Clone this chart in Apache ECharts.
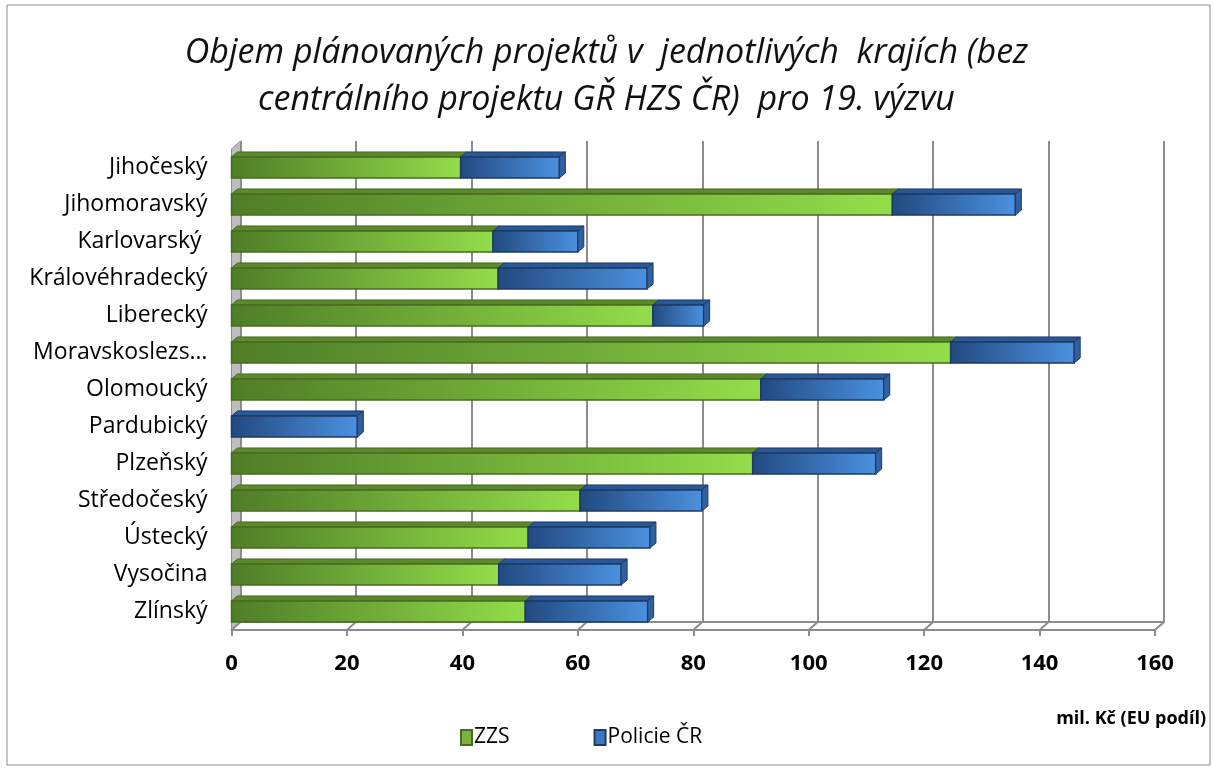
<!DOCTYPE html>
<html><head><meta charset="utf-8">
<script src="https://cdn.jsdelivr.net/npm/echarts@6/dist/echarts.min.js"></script>
<style>html,body{margin:0;padding:0;background:#fff}#c{width:1213px;height:769px}</style>
</head><body><div id="c"></div>
<script>
const titleLines = ['Objem plánovaných projektů v  jednotlivých  krajích (bez', 'centrálního projektu GŘ HZS ČR)  pro 19. výzvu'];
const categories = ['Jihočeský','Jihomoravský','Karlovarský ','Královéhradecký','Liberecký','Moravskoslezs…','Olomoucký','Pardubický','Plzeňský','Středočeský','Ústecký','Vysočina','Zlínský'];
const zzs =     [39.7, 114.5, 45.3, 46.2, 73.0, 124.6, 91.7, 0,    90.3, 60.4, 51.4, 46.3, 50.9];
const policie = [17.1, 21.3,  14.7, 25.8, 8.8,  21.4,  21.3, 21.8, 21.3, 21.1, 21.1, 21.2, 21.2];
const xTicks = [0, 20, 40, 60, 80, 100, 120, 140, 160];
const unitLabel = 'mil. Kč (EU podíl)';
const seriesNames = ['ZZS', 'Policie ČR'];

const FONT = 'Open Sans';
const chart = echarts.init(document.getElementById('c'));
const DX = 9, DY = 8; // back wall offset

function seg(startArr, valArr) {
  return valArr.map((v, i) => [startArr[i], startArr[i] + v, i]);
}
const zzsData = seg(categories.map(() => 0), zzs);
const polData = seg(zzs, policie);

function makeRender(c) {
  return function (params, api) {
    const s = api.value(0), e = api.value(1), cat = api.value(2);
    if (e - s <= 0) return null;
    const a = api.coord([s, cat]), b = api.coord([e, cat]);
    const h = api.size([0, 1])[1] * 0.57;
    const dx = 6, dy = 5;
    const x0 = a[0], x1 = b[0], yT = a[1] - h / 2, yB = a[1] + h / 2;
    return {
      type: 'group', children: [
        { type: 'polygon', shape: { points: [[x0, yT], [x1, yT], [x1 + dx, yT - dy], [x0 + dx, yT - dy]] },
          style: { fill: c.top, stroke: c.border, lineWidth: 1 } },
        { type: 'rect', shape: { x: x0, y: yT, width: x1 - x0, height: h },
          style: { fill: new echarts.graphic.LinearGradient(0, 0, 1, 0, [{ offset: 0, color: c.dark }, { offset: 1, color: c.light }]),
                   stroke: c.border, lineWidth: 1.5 } },
        { type: 'polygon', shape: { points: [[x1, yT], [x1 + dx, yT - dy], [x1 + dx, yB - dy], [x1, yB]] },
          style: { fill: c.side, stroke: c.border, lineWidth: 1 } }
      ]
    };
  };
}
const green = { dark: '#4f7d27', light: '#93dd4a', top: '#5a8a2c', side: '#6a9a35', border: '#4a6a22' };
const blue = { dark: '#22497f', light: '#4b91e0', top: '#2a5896', side: '#30609f', border: '#1c3a66' };

function floorRender(params, api) {
  const v = api.value(0);
  const cs = params.coordSys;
  const p = api.coord([v, 0]);
  const yb = cs.y + cs.height;
  const children = [
    { type: 'line', shape: { x1: p[0], y1: yb, x2: p[0] + DX, y2: yb - DY }, style: { stroke: '#8c8c8c', lineWidth: 2 } }
  ];
  if (v === 0) {
    children.unshift({ type: 'polygon', shape: { points: [[p[0], cs.y], [p[0] + DX, cs.y - DY], [p[0] + DX, yb - DY], [p[0], yb]] },
      style: { fill: '#bdbdbd', stroke: '#8c8c8c', lineWidth: 1 } });
  }
  return { type: 'group', children };
}

chart.setOption({
  animation: false,
  textStyle: { fontFamily: FONT },
  title: {
    text: titleLines.join('\n'), left: 'center', top: 25,
    textStyle: { fontFamily: FONT, fontStyle: 'italic', fontWeight: 'normal', fontSize: 34, color: '#111', lineHeight: 47 }
  },
  graphic: [
    { type: 'rect', shape: { x: 7, y: 5, width: 1203, height: 760 }, style: { fill: 'none', stroke: '#8c8c8c', lineWidth: 1 }, z: -10 },
    { type: 'text', right: 7, top: 710, style: { text: unitLabel, font: 'bold 18px "' + FONT + '"', fill: '#000' } }
  ],
  legend: {
    data: seriesNames, left: 455, top: 722, itemGap: 84, itemWidth: 11, itemHeight: 15, icon: 'rect',
    textStyle: { fontFamily: FONT, fontSize: 21, color: '#000', padding: [0, 0, 0, -3] }
  },
  grid: [
    { left: 231.5, right: 58, top: 149, bottom: 139 },
    { left: 231.5 + DX, right: 58 - DX, top: 149 - DY, bottom: 139 + DY }
  ],
  xAxis: [
    { gridIndex: 0, type: 'value', min: 0, max: 160, interval: 20,
      axisLine: { show: true, lineStyle: { color: '#8c8c8c', width: 2 } },
      axisTick: { show: true, length: 6, lineStyle: { color: '#8c8c8c', width: 2 } },
      splitLine: { show: false },
      axisLabel: { margin: 23, fontFamily: FONT, fontSize: 22, fontWeight: 'bold', color: '#000' } },
    { gridIndex: 1, type: 'value', min: 0, max: 160, interval: 20,
      axisLine: { show: true, lineStyle: { color: '#8c8c8c', width: 2 } },
      axisTick: { show: false }, axisLabel: { show: false },
      splitLine: { show: true, lineStyle: { color: '#8c8c8c', width: 2 } } }
  ],
  yAxis: [
    { gridIndex: 0, type: 'category', data: categories, inverse: true,
      axisLine: { show: true, lineStyle: { color: '#8c8c8c', width: 1 } }, axisTick: { show: false },
      axisLabel: { margin: 24, fontFamily: FONT, fontSize: 23, color: '#000' } },
    { gridIndex: 1, type: 'category', data: categories, inverse: true,
      axisLine: { show: false }, axisTick: { show: false }, axisLabel: { show: false } }
  ],
  series: [
    { type: 'custom', name: 'floor', xAxisIndex: 0, yAxisIndex: 0, silent: true, z: 1,
      renderItem: floorRender, data: xTicks.map(v => [v]), encode: { x: 0 } },
    { type: 'custom', name: seriesNames[0], xAxisIndex: 0, yAxisIndex: 0, z: 3,
      renderItem: makeRender(green), data: zzsData, encode: { x: [0, 1], y: 2 },
      itemStyle: { color: '#79b442', borderColor: '#4a6a22', borderWidth: 1 } },
    { type: 'custom', name: seriesNames[1], xAxisIndex: 0, yAxisIndex: 0, z: 4,
      renderItem: makeRender(blue), data: polData, encode: { x: [0, 1], y: 2 },
      itemStyle: { color: '#3a78c4', borderColor: '#1c3a66', borderWidth: 1 } }
  ]
});
</script></body></html>
